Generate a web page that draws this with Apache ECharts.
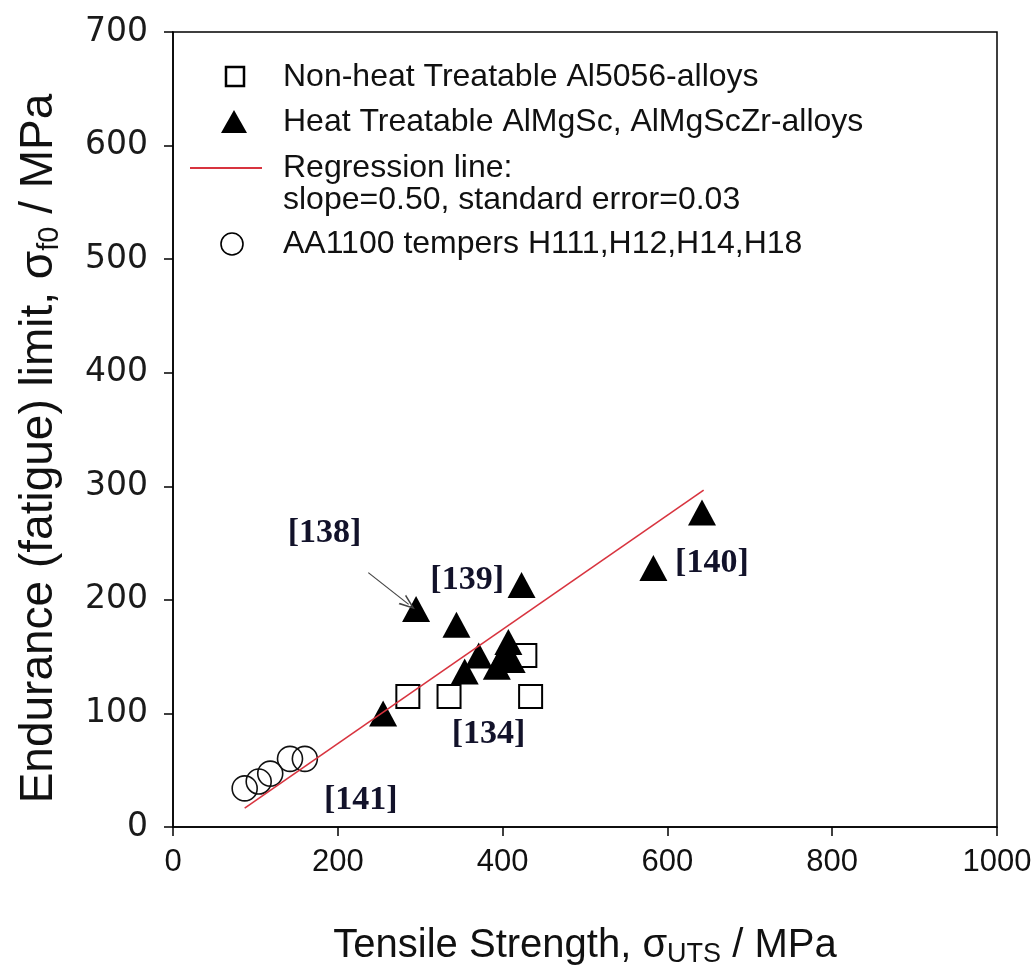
<!DOCTYPE html>
<html>
<head>
<meta charset="utf-8">
<title>Endurance limit vs tensile strength</title>
<script src="https://cdn.jsdelivr.net/npm/echarts@6/dist/echarts.min.js"></script>
<style>
  html, body { margin: 0; padding: 0; background: #fff; }
  #chart { width: 1032px; height: 980px; }
</style>
</head>
<body>
<div id="chart"></div>
<script>
// [tensile strength, endurance limit] in MPa
var al5056 = [[285, 115], [335, 115], [434, 115], [427, 151]];
var almgsc = [[255, 100], [295, 192], [344, 178], [354, 137], [371, 151], [393, 141],
              [401, 151], [407, 163], [411, 147], [423, 213], [583, 228], [642, 277]];
var aa1100 = [[87, 34], [104, 40], [118, 47], [142, 60], [160, 60]];
// regression line ends (slope 0.50)
var regression = [[87, 16.7], [644, 296.7]];

// literature reference labels
var refNames = ['[138]', '[139]', '[140]', '[134]', '[141]'];
var refPos = [[184, 259], [357, 217], [654, 232], [383, 82], [228, 24]];
var arrow138 = [[237, 224], [286, 196]];

var legendNames = [
    'Non-heat Treatable Al5056-alloys',
    'Heat Treatable AlMgSc, AlMgScZr-alloys',
    'Regression line:',
    'slope=0.50, standard error=0.03',
    'AA1100 tempers H111,H12,H14,H18'
];

var xMin = 0, xMax = 1000, xStep = 200;
var yMin = 0, yMax = 700, yStep = 100;

var FONT = '"Liberation Sans", Arial, sans-serif';
var SERIF = '"Liberation Serif", "Times New Roman", serif';
var RED = '#d8343f';

var myChart = echarts.init(document.getElementById('chart'));

// legend drawn by hand, the regression entry spans two lines
var legendY = [77, 122, 168, 200, 244];
var legendGraphic = [
    {type: 'rect', shape: {x: 226, y: 67, width: 18, height: 19},
     style: {fill: 'none', stroke: '#000', lineWidth: 2.5}},
    {type: 'polygon', shape: {points: [[221, 133], [234, 110], [247, 133]]},
     style: {fill: '#000'}},
    {type: 'line', shape: {x1: 190, y1: 168, x2: 262, y2: 168},
     style: {stroke: RED, lineWidth: 2}},
    {type: 'circle', shape: {cx: 232, cy: 244, r: 11},
     style: {fill: 'none', stroke: '#000', lineWidth: 1.6}}
];
legendNames.forEach(function (name, i) {
    legendGraphic.push({
        type: 'text', x: 283, y: legendY[i],
        style: {text: name, fontSize: 32, fontFamily: FONT, fill: '#111', verticalAlign: 'middle'}
    });
});

var option = {
    animation: false,
    backgroundColor: '#fff',
    grid: {left: 173, right: 35, top: 32, bottom: 153, show: true, outerBoundsMode: 'none',
           borderColor: '#000', borderWidth: 1.5, backgroundColor: 'transparent'},
    xAxis: {
        type: 'value', min: xMin, max: xMax, interval: xStep,
        axisLine: {show: true, onZero: false, lineStyle: {color: '#000', width: 1.5}},
        axisTick: {show: true, inside: false, length: 9, lineStyle: {color: '#000', width: 1.5}},
        splitLine: {show: false},
        axisLabel: {fontSize: 31, fontFamily: FONT, color: '#111', margin: 20,
                    formatter: function (v) { return String(v); }},
        name: '{a|Tensile Strength, σ}{s|UTS}{a| / MPa}',
        nameLocation: 'middle', nameGap: 97,
        nameTextStyle: {
            rich: {
                a: {fontSize: 40, fontFamily: FONT, color: '#111', lineHeight: 44, verticalAlign: 'middle'},
                s: {fontSize: 27, fontFamily: FONT, color: '#111', lineHeight: 20, verticalAlign: 'bottom'}
            }
        }
    },
    yAxis: {
        type: 'value', min: yMin, max: yMax, interval: yStep,
        axisLine: {show: true, onZero: false, lineStyle: {color: '#000', width: 1.5}},
        axisTick: {show: true, inside: false, length: 9, lineStyle: {color: '#000', width: 1.5}},
        splitLine: {show: false},
        axisLabel: {fontSize: 33, fontFamily: '"DejaVu Sans", sans-serif', color: '#1a1a1a', margin: 25},
        name: '{a|Endurance (fatigue) limit, σ}{s|f0}{e| / MPa}',
        nameLocation: 'middle', nameRotate: 90, nameGap: 109,
        nameTextStyle: {
            rich: {
                a: {fontSize: 46, fontFamily: FONT, color: '#111', lineHeight: 50, verticalAlign: 'middle'},
                e: {fontSize: 46, fontFamily: FONT, color: '#111', lineHeight: 50, verticalAlign: 'middle',
                    padding: [0, 38, 0, 0]},
                s: {fontSize: 29, fontFamily: FONT, color: '#111', lineHeight: 20, verticalAlign: 'bottom'}
            }
        }
    },
    graphic: legendGraphic,
    series: [
        {
            name: legendNames[0], type: 'scatter', data: al5056,
            symbol: 'rect', symbolSize: 23,
            itemStyle: {color: 'rgba(0,0,0,0)', borderColor: '#000', borderWidth: 2, opacity: 1}
        },
        {
            name: legendNames[1], type: 'scatter', data: almgsc,
            symbol: 'triangle', symbolSize: [28, 26],
            itemStyle: {color: '#000', opacity: 1}
        },
        {
            name: legendNames[4], type: 'scatter', data: aa1100,
            symbol: 'circle', symbolSize: 25,
            itemStyle: {color: 'rgba(0,0,0,0)', borderColor: '#111', borderWidth: 1.6, opacity: 1}
        },
        {
            name: 'Regression', type: 'line', data: regression,
            symbol: 'none', lineStyle: {color: RED, width: 1.6}
        },
        {
            name: 'refs', type: 'scatter', silent: true,
            data: refPos.map(function (p, i) { return {value: p, name: refNames[i]}; }),
            symbolSize: 0,
            itemStyle: {opacity: 1},
            label: {show: true, position: 'inside', formatter: '{b}',
                    fontFamily: SERIF, fontWeight: 'bold', fontSize: 34, color: '#12122a'},
            markLine: {
                silent: true, animation: false,
                symbol: ['none', 'path://M0,10 L5,0 L10,10 L8.6,10 L5,2.6 L1.4,10 Z'],
                symbolSize: [12, 16],
                label: {show: false},
                lineStyle: {color: '#444', width: 1.2, type: 'solid', opacity: 1},
                data: [[{coord: arrow138[0]}, {coord: arrow138[1]}]]
            }
        }
    ]
};

myChart.setOption(option);
</script>
</body>
</html>
